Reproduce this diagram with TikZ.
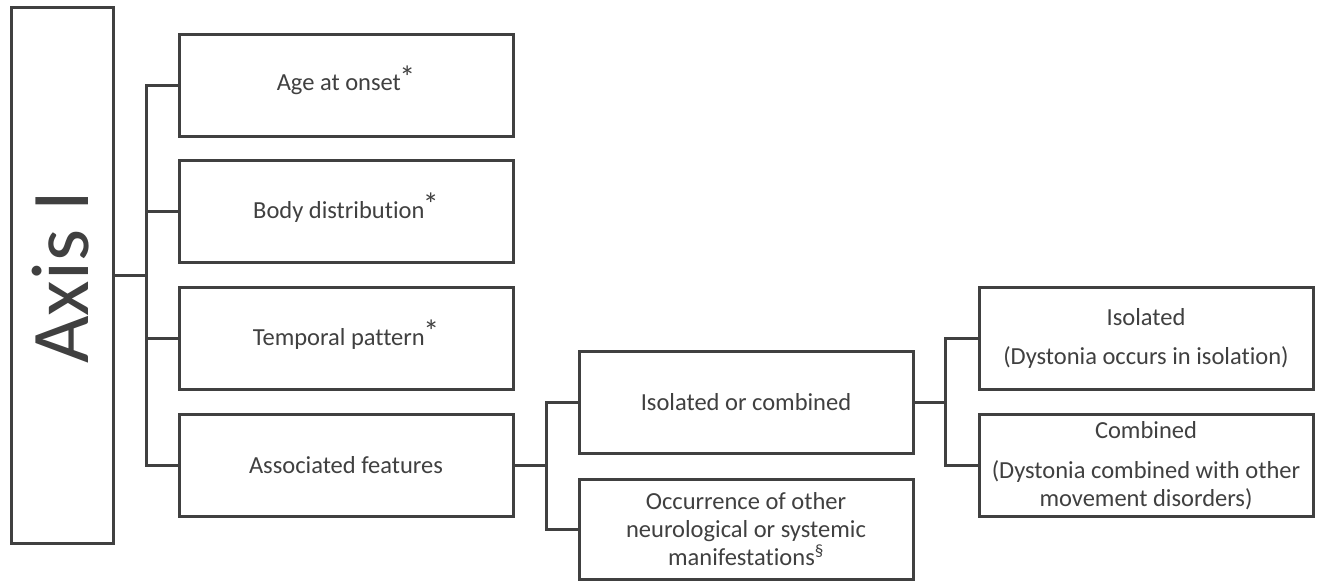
\documentclass[tikz,border=0pt]{standalone}
\usepackage{fontspec}
\setmainfont{Carlito}[Ligatures=NoCommon]
\definecolor{ink}{HTML}{404040}
\newcommand{\myast}{\kern-1.5pt\smash{\raisebox{2.5pt}{\scalebox{1.3}{*}}}}
\begin{document}
\begin{tikzpicture}[x=1pt,y=-1pt,
  box/.style={draw=ink, line width=3pt, fill=white, text=ink, align=center,
    minimum width=334pt, minimum height=102pt, inner sep=0pt,
    font=\fontsize{24.5}{28}\selectfont},
  link/.style={draw=ink, line width=3pt}]
\useasboundingbox (0,0) rectangle (1323,581);
\node[box, minimum width=102pt, minimum height=536pt] (axis) at (62,275) {};
\node[text=ink, rotate=90, font=\fontsize{82}{90}\selectfont] (axislabel) at (61,277) {Axis I};
\node[box] (age) at (346,85) {Age at onset\myast};
\node[box] (body) at (346,211.5) {Body distribution\myast};
\node[box] (temporal) at (346,338.5) {Temporal pattern\myast};
\node[box] (assoc) at (346,465) {Associated features};
\node[box] (isocomb) at (746,402) {Isolated or combined};
\node[box, minimum height=100pt] (occur) at (746,529) {Occurrence of other\\neurological or systemic\\manifestations\textsuperscript{§}};
\node[box] (isolated) at (1146,338.5) {Isolated\\[11pt](Dystonia occurs in isolation)};
\node[box] (combined) at (1146,465.5) {Combined\\[12pt](Dystonia combined with other\\movement disorders)};
\coordinate (j1) at (146,275);
\coordinate (j2) at (546,465);
\coordinate (j3) at (945,402);
\draw[link] (axis.east) -- (j1);
\draw[link] (age.west) -| (j1);
\draw[link] (body.west) -| (j1);
\draw[link] (temporal.west) -| (j1);
\draw[link] (assoc.west) -| (j1);
\draw[link] (assoc.east) -- (j2);
\draw[link] (isocomb.west) -| (j2);
\draw[link] (occur.west) -| (j2);
\draw[link] (isocomb.east) -- (j3);
\draw[link] (isolated.west) -| (j3);
\draw[link] (combined.west) -| (j3);
\end{tikzpicture}
\end{document}
